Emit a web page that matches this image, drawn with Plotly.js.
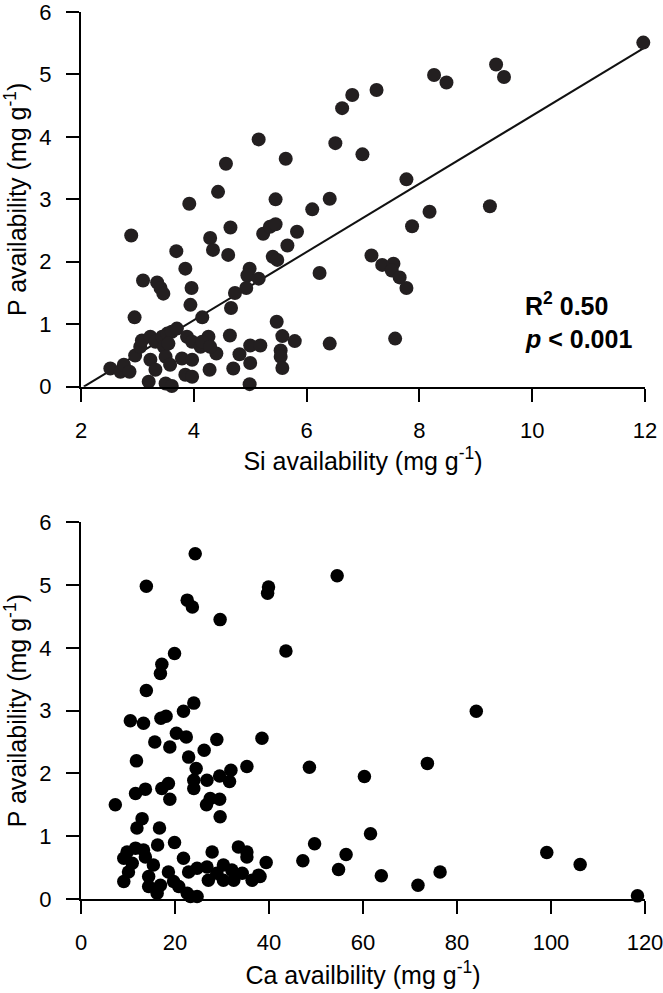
<!DOCTYPE html>
<html>
<head>
<meta charset="utf-8">
<script src="https://cdn.plot.ly/plotly-3.0.1.min.js"></script>
<style>html,body{margin:0;padding:0;background:#fff;}#chart{width:663px;height:993px;}</style>
</head>
<body>
<div id="chart"></div>
<script>
// Top panel: Si availability vs P availability
const siAvail = [5.15,4.57,5.63,4.43,3.92,5.45,6.41,6.51,6.63,6.81,7.24,6.99,7.77,8.26,8.48,9.36,9.50,11.97,8.18,9.25,
  7.87,7.15,7.34,7.54,7.51,7.65,7.77,7.57,6.41,6.10,2.89,4.65,4.29,4.34,4.61,3.69,5.23,5.35,5.45,5.83,
  5.66,5.40,5.48,6.23,4.99,4.95,5.15,4.93,4.73,4.66,3.85,3.96,3.94,3.10,3.35,3.41,3.46,2.95,4.15,5.47,
  4.64,5.57,5.79,5.00,5.18,5.54,5.54,5.57,4.81,4.70,5.00,4.99,4.28,4.40,4.26,2.52,2.70,2.76,2.86,2.96,
  3.05,3.08,3.23,3.32,3.23,3.32,3.20,3.44,3.47,3.50,3.58,3.53,3.61,3.70,3.50,3.61,3.55,3.79,3.97,3.85,
  3.97,3.88,3.97,4.12,4.15,4.29];
const pTop = [3.96,3.57,3.65,3.12,2.93,3.00,3.01,3.90,4.46,4.67,4.75,3.72,3.32,4.99,4.87,5.16,4.96,5.51,2.80,2.89,
  2.57,2.10,1.95,1.97,1.86,1.75,1.58,0.77,0.69,2.84,2.42,2.55,2.38,2.19,2.11,2.17,2.45,2.56,2.60,2.48,
  2.26,2.08,2.03,1.82,1.89,1.78,1.73,1.58,1.50,1.26,1.89,1.58,1.31,1.70,1.67,1.58,1.49,1.11,1.11,1.04,
  0.82,0.81,0.73,0.66,0.66,0.58,0.48,0.30,0.52,0.29,0.38,0.04,0.27,0.53,0.80,0.29,0.24,0.35,0.24,0.50,
  0.64,0.74,0.80,0.72,0.43,0.27,0.08,0.80,0.64,0.48,0.35,0.85,0.88,0.93,0.05,0.01,0.69,0.45,0.43,0.19,
  0.16,0.80,0.72,0.64,0.72,0.64];
// Regression fit (top panel)
const fitSlope = 0.546;
const fitIntercept = -1.119;
const statLines = ["<b>R<sup>2</sup> 0.50</b>", "<b><i>p</i> < 0.001</b>"];

// Bottom panel: Ca availability vs P availability
const caAvail = [24.3,13.9,22.6,23.7,29.6,39.9,39.7,54.5,43.6,19.9,17.2,16.9,13.9,84.1,24.0,21.8,18.1,17.0,10.5,13.3,
  20.3,22.4,28.9,38.5,15.7,18.9,26.2,22.9,11.8,35.3,24.5,31.9,29.5,26.8,24.0,31.6,24.0,18.6,17.2,18.9,
  13.7,11.6,7.3,27.5,29.5,26.7,29.6,13.0,11.9,16.7,48.6,60.3,73.7,61.6,49.7,56.4,47.2,39.4,38.1,54.8,
  63.9,71.7,76.4,99.1,106.2,118.4,16.3,19.9,9.8,11.6,13.3,9.1,10.9,13.7,15.4,10.1,9.1,14.4,14.4,16.2,
  16.9,18.6,19.7,21.8,20.8,22.6,23.3,24.7,22.9,24.7,26.8,27.9,27.1,28.9,30.3,30.3,32.1,32.5,33.5,35.3,
  35.3,34.3,36.4,37.8];
const pBot = [5.50,4.98,4.76,4.65,4.45,4.97,4.87,5.15,3.95,3.91,3.74,3.59,3.32,2.99,3.12,2.99,2.91,2.88,2.84,2.80,
  2.64,2.58,2.54,2.56,2.50,2.42,2.37,2.26,2.20,2.11,2.08,2.05,1.96,1.89,1.89,1.87,1.76,1.84,1.76,1.59,
  1.75,1.68,1.50,1.60,1.59,1.50,1.31,1.28,1.13,1.13,2.10,1.95,2.16,1.04,0.88,0.71,0.61,0.58,0.36,0.47,
  0.37,0.22,0.43,0.74,0.55,0.05,0.86,0.90,0.75,0.81,0.78,0.65,0.57,0.67,0.54,0.43,0.28,0.36,0.20,0.09,
  0.22,0.43,0.28,0.65,0.20,0.09,0.04,0.04,0.43,0.49,0.51,0.75,0.30,0.41,0.54,0.30,0.46,0.30,0.83,0.75,
  0.67,0.41,0.30,0.38];

const siTicks = [2,4,6,8,10,12];
const caTicks = [0,20,40,60,80,100,120];
const pTicks = [0,1,2,3,4,5,6];

const FONT = "Arial, 'Liberation Sans', sans-serif";
const fitX0 = -fitIntercept / fitSlope;
const fitX1 = Math.max(...siAvail);
const fitXs = [fitX0, fitX1];
const fitYs = fitXs.map(v => fitSlope * v + fitIntercept);

const traces = [
  {x: fitXs, y: fitYs, type: 'scatter', mode: 'lines', xaxis: 'x', yaxis: 'y',
   line: {color: '#111', width: 2}, hoverinfo: 'skip', cliponaxis: false},
  {x: siAvail, y: pTop, type: 'scatter', mode: 'markers', xaxis: 'x', yaxis: 'y',
   marker: {size: 14, color: '#231f20', line: {width: 0}}, cliponaxis: false},
  {x: caAvail, y: pBot, type: 'scatter', mode: 'markers', xaxis: 'x2', yaxis: 'y2',
   marker: {size: 13.5, color: '#000', line: {width: 0}}, cliponaxis: false}
];

const TITLE_FONT = {family: FONT, size: 25, color: '#000'};

function axisBase(extra) {
  return Object.assign({
    showline: true, linecolor: '#000', linewidth: 2,
    ticks: 'outside', ticklen: 13, tickwidth: 2, tickcolor: '#000',
    showgrid: false, zeroline: false,
    tickfont: {family: FONT, size: 22, color: '#000'},
    ticklabelstandoff: 10,
    ticklabeloverflow: 'allow',
    fixedrange: true
  }, extra);
}

const layout = {
  width: 663, height: 993,
  margin: {l: 81, r: 18, t: 12, b: 94},
  paper_bgcolor: '#fff', plot_bgcolor: '#fff',
  showlegend: false,
  font: {family: FONT, color: '#000'},
  xaxis: axisBase({domain: [0, 1], anchor: 'y', range: [2, 12], tickvals: siTicks,
    title: {text: 'Si availability (mg g<sup>-1</sup>)', font: TITLE_FONT, standoff: 10}}),
  yaxis: axisBase({domain: [0.5776, 1], anchor: 'x', range: [0, 6], tickvals: pTicks,
    title: {text: 'P availability (mg g<sup>-1</sup>)', font: TITLE_FONT, standoff: 8}}),
  xaxis2: axisBase({domain: [0, 1], anchor: 'y2', range: [0, 120], tickvals: caTicks,
    title: {text: 'Ca availbility (mg g<sup>-1</sup>)', font: TITLE_FONT, standoff: 12}}),
  yaxis2: axisBase({domain: [0, 0.4247], anchor: 'x2', range: [0, 6], tickvals: pTicks,
    title: {text: 'P availability (mg g<sup>-1</sup>)', font: TITLE_FONT, standoff: 8}}),
  annotations: [
    {text: statLines[0], xref: 'x', yref: 'y', x: 9.83, y: 1.33, xanchor: 'left', yanchor: 'middle',
     showarrow: false, font: {family: FONT, size: 25, color: '#000'}},
    {text: statLines[1], xref: 'x', yref: 'y', x: 9.83, y: 0.76, xanchor: 'left', yanchor: 'middle',
     showarrow: false, font: {family: FONT, size: 25, color: '#000'}}
  ]
};

Plotly.newPlot('chart', traces, layout, {displayModeBar: false, staticPlot: true});
</script>
</body>
</html>
